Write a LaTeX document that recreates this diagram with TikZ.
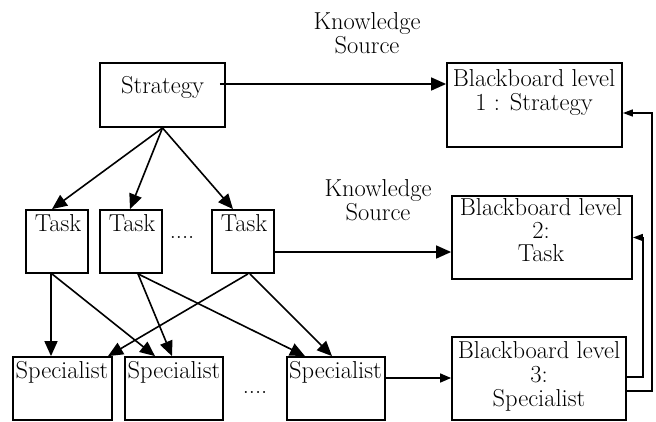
\documentclass[tikz,border=0pt]{standalone}
\usetikzlibrary{arrows.meta,calc}
\tikzset{
  box/.style={draw, line width=1.8pt, inner sep=0pt},
  lbl/.style={inner sep=0pt, align=center, font=\fontsize{24.5}{24}\selectfont},
  bigtip/.style={line width=1.6pt, -{Triangle[length=15pt,width=13pt]}},
  midtip/.style={line width=1.6pt, -{Triangle[length=11pt,width=9pt]}},
  smalltip/.style={line width=1.6pt, -{Triangle[length=10pt,width=7pt]}}
}
\begin{document}
\begin{tikzpicture}[x=1pt,y=-1pt]
        \useasboundingbox (0,0) rectangle (656,421);
        % boxes, measured in px of the sketch
        \node[box, minimum width=125, minimum height=64] (strategy) at (162.5,95) {};
        \node[box, minimum width=175, minimum height=84] (bb1) at (534.5,105) {};
        \node[box, minimum width=62, minimum height=63] (task1) at (57,241.5) {};
        \node[box, minimum width=62, minimum height=63] (task2) at (131,241.5) {};
        \node[box, minimum width=62, minimum height=63] (task3) at (243,241.5) {};
        \node[box, minimum width=180, minimum height=83] (bb2) at (542,237.5) {};
        \node[box, minimum width=99, minimum height=63] (spec1) at (62.5,388.5) {};
        \node[box, minimum width=98, minimum height=63] (spec2) at (174,388.5) {};
        \node[box, minimum width=98, minimum height=63] (spec3) at (336,388.5) {};
        \node[box, minimum width=174, minimum height=83] (bb3) at (539,378.5) {};

        % texts
        \node[lbl, anchor=base] (strategytxt) at (162.5,93) {Strategy};
        \node[lbl, anchor=north] (bb1txt) at (534,69) {Blackboard level\\1 : Strategy};
        \node[lbl, anchor=north] (ks1txt) at (367,12) {Knowledge\\Source};
        \node[lbl, anchor=north] (ks2txt) at (378,179) {Knowledge\\Source};
        \node[lbl, anchor=base] (task1txt) at (58,231) {Task};
        \node[lbl, anchor=base] (task2txt) at (132,231) {Task};
        \node[lbl, anchor=base] (task3txt) at (244,231) {Task};
        \node[lbl, anchor=base] (taskdots) at (182,238) {....};
        \node[lbl, anchor=north, font=\fontsize{24.5}{23}\selectfont] (bb2txt) at (541,198) {Blackboard level\\2:\\Task};
        \node[lbl, anchor=base] (spec1txt) at (62,378) {Specialist};
        \node[lbl, anchor=base] (spec2txt) at (174,378) {Specialist};
        \node[lbl, anchor=base] (spec3txt) at (335.5,378) {Specialist};
        \node[lbl, anchor=base] (specdots) at (255,393) {....};
        \node[lbl, anchor=north] (bb3txt) at (539,341) {Blackboard level\\3:\\Specialist};

        % knowledge source arrows
        \coordinate (ks1) at ([shift={(-6,-11)}]strategy.east);
        \draw[bigtip] (ks1) -- (ks1 -| bb1.west);
        \coordinate (ks2) at ([yshift=-10.5]task3.east);
        \draw[bigtip] (ks2) -- (ks2 -| bb2.west);
        \coordinate (ks3) at ([yshift=10.5]spec3.east);
        \draw[midtip] (ks3) -- (ks3 -| bb3.west);

        % strategy to tasks
        \draw[bigtip] (strategy.south) -- ([xshift=-5]task1.north);
        \draw[bigtip] (strategy.south) -- ([xshift=-1]task2.north);
        \draw[bigtip] (strategy.south) -- ([xshift=-10]task3.north);

        % tasks to specialists
        \draw[bigtip] ([xshift=-6]task1.south) -- ([xshift=-11.5]spec1.north);
        \draw[bigtip] ([xshift=-5]task1.south) -- ([xshift=-19]spec2.north);
        \draw[bigtip] ([xshift=7]task2.south) -- ([xshift=-2]spec2.north);
        \draw[bigtip] ([xshift=7]task2.south) -- ([xshift=-31]spec3.north);
        \draw[bigtip] ([xshift=5]task3.south) -- ([xshift=45.5]spec1.north);
        \draw[bigtip] ([xshift=7]task3.south) -- ([xshift=-4]spec3.north);

        % feedback from level 3
        \draw[smalltip] ([yshift=1.5]bb3.east) -- ++(16,0) |- (bb2.east);
        \draw[smalltip] ([yshift=-12.5]bb3.east) -- ++(25,0) |- ([yshift=-8]bb1.east);
    \end{tikzpicture}
\end{document}
